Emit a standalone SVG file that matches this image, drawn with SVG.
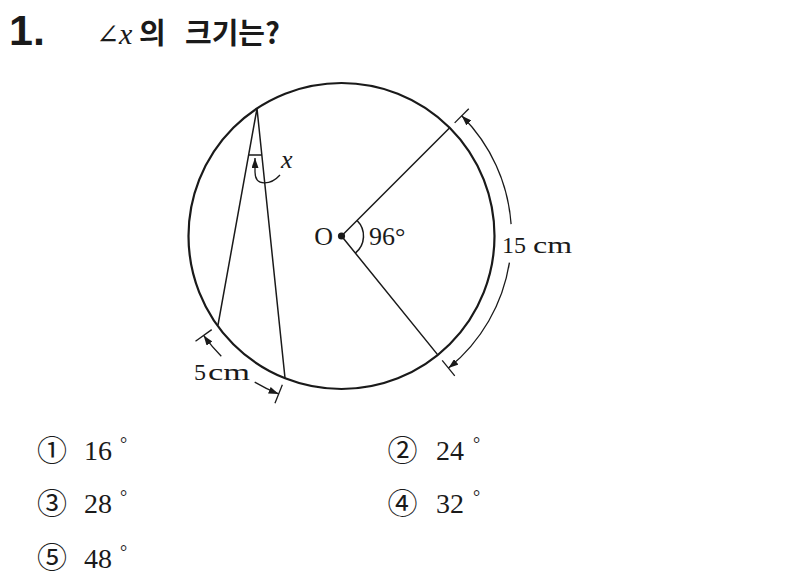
<svg xmlns="http://www.w3.org/2000/svg" width="795" height="585" viewBox="0 0 795 585">
<style>
.ser{font-family:"Liberation Serif","DejaVu Serif",serif;fill:#1a1a1a}
.it{font-style:italic}
.kr{font-family:"Noto Sans CJK KR","Noto Sans",sans-serif;font-weight:bold;fill:#1a1a1a}
.circ{font-family:"Noto Sans CJK KR","DejaVu Sans",sans-serif;fill:#1a1a1a}
.ln{stroke:#1a1a1a;fill:none;stroke-width:1.5}
.dim{stroke:#1a1a1a;fill:none;stroke-width:1.3}
</style>
<defs>
<marker id="ah" viewBox="0 0 10 7" refX="10" refY="3.5" markerUnits="userSpaceOnUse" markerWidth="10" markerHeight="7" orient="auto">
<path d="M0,0 L10,3.5 L0,7 z" fill="#1a1a1a"/>
</marker>
</defs>
<rect width="795" height="585" fill="#ffffff"/>

<g id="title">
<text x="9" y="45" font-family="Liberation Sans,Arial,sans-serif" font-weight="bold" font-size="43" fill="#1a1a1a">1.</text>
<text x="96" y="44" class="ser" font-size="28">∠</text>
<text x="119" y="44" class="ser it" font-size="30">x</text>
<text x="139" y="44" class="kr" font-size="29">의</text>
<text x="185" y="44" class="kr" font-size="29">크기는?</text>
</g>

<g id="circle">
<circle cx="341.5" cy="236" r="153" fill="none" stroke="#1a1a1a" stroke-width="2.2"/>
</g>

<g id="connectors">
<!-- inscribed angle -->
<path class="ln" d="M218 325 L257 108.5 L285 378"/>
<!-- radii -->
<path class="ln" d="M449.69 127.81 L341.5 236 L437.78 354.9"/>
<!-- angle marks -->
<path class="ln" d="M248.6 155 L261.8 155"/>
<path class="ln" d="M357.06 220.44 A22 22 0 0 1 355.35 253.1"/>
<path class="dim" d="M280 175 C271 185 255 187 255 172 L255 158" marker-end="url(#ah)"/>
<!-- 15cm dimension -->
<path class="dim" d="M454.64 122.86 L468.78 108.72"/>
<path class="dim" d="M442.19 360.34 L454.77 375.88"/>
<path class="dim" d="M511.09 224.14 A170 170 0 0 0 461.71 115.79" marker-end="url(#ah)"/>
<path class="dim" d="M509.41 262.59 A170 170 0 0 1 448.48 368.11" marker-end="url(#ah)"/>
<!-- 5cm dimension -->
<path class="dim" d="M211.72 329.6 L195.5 341.3"/>
<path class="dim" d="M282.35 384.66 L274.95 403.24"/>
<path class="dim" d="M221.29 356.21 A170 170 0 0 1 203.61 335.45" marker-end="url(#ah)"/>
<path class="dim" d="M254.71 382.18 A170 170 0 0 0 278.65 393.95" marker-end="url(#ah)"/>
</g>

<g id="center-O">
<circle cx="341.5" cy="236" r="3.6" fill="#1a1a1a"/>
<text x="333" y="245" text-anchor="end" class="ser" font-size="26">O</text>
<text x="369" y="245" class="ser" font-size="26">96°</text>
</g>

<g id="labels">
<text x="281" y="168" class="ser it" font-size="26">x</text>
<text x="502" y="253" class="ser" font-size="24">15</text>
<text x="533" y="253" class="ser" font-size="24" textLength="39" lengthAdjust="spacingAndGlyphs">cm</text>
<text x="194" y="380" class="ser" font-size="24">5</text>
<text x="208" y="380" class="ser" font-size="24" textLength="42" lengthAdjust="spacingAndGlyphs">cm</text>
</g>

<g id="options">
<g id="opt1">
<text x="52" y="461" text-anchor="middle" class="circ" font-size="30">①</text>
<text x="84" y="460" class="ser" font-size="28">16</text>
<text x="120" y="450" class="ser" font-size="18">°</text>
</g>
<g id="opt2">
<text x="402.5" y="461" text-anchor="middle" class="circ" font-size="30">②</text>
<text x="436" y="460" class="ser" font-size="28">24</text>
<text x="473" y="450" class="ser" font-size="18">°</text>
</g>
<g id="opt3">
<text x="52" y="514" text-anchor="middle" class="circ" font-size="30">③</text>
<text x="84" y="513" class="ser" font-size="28">28</text>
<text x="120" y="503" class="ser" font-size="18">°</text>
</g>
<g id="opt4">
<text x="402.5" y="514" text-anchor="middle" class="circ" font-size="30">④</text>
<text x="436" y="513" class="ser" font-size="28">32</text>
<text x="473" y="503" class="ser" font-size="18">°</text>
</g>
<g id="opt5">
<text x="52" y="568" text-anchor="middle" class="circ" font-size="30">⑤</text>
<text x="84" y="568" class="ser" font-size="28">48</text>
<text x="120" y="558" class="ser" font-size="18">°</text>
</g>
</g>
</svg>
